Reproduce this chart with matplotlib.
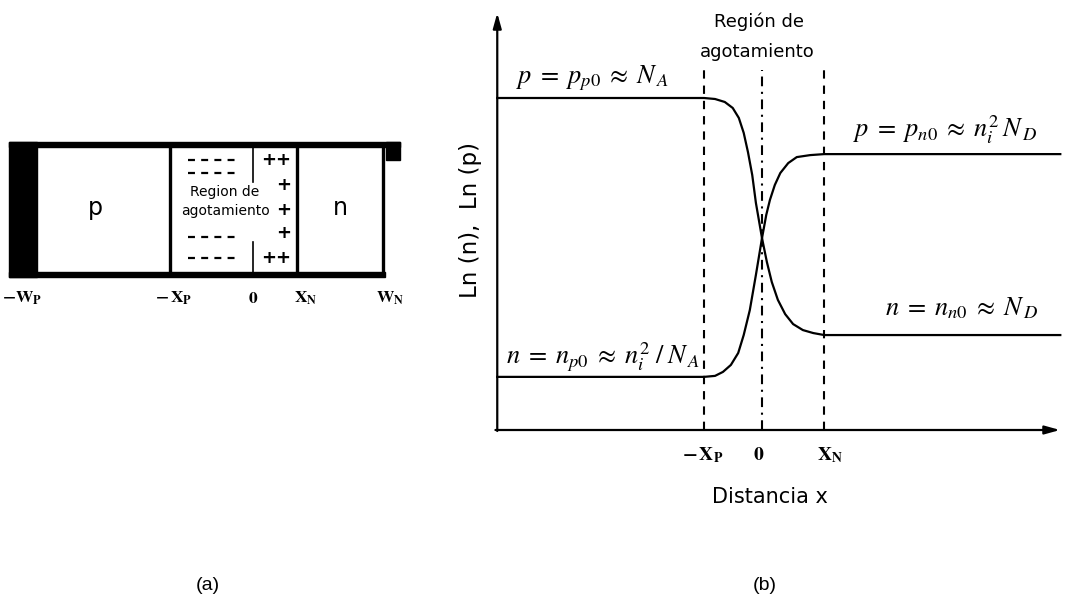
import matplotlib
matplotlib.use("Agg")
import matplotlib.pyplot as plt
from matplotlib.patches import Rectangle

plt.rcParams['mathtext.fontset'] = 'stix'
plt.rcParams['lines.scale_dashes'] = False

W, H = 1065, 612

# ---- panel (b): carrier profiles (x in units of the junction width, y ~ ln of concentration)
x_p, x_0, x_n = -0.95, 0.0, 1.02
x_left, x_right = -4.34, 4.89

# curve starting at the p_p0 level on the left
p_x = [x_left, -0.95, -0.77, -0.61, -0.48, -0.38, -0.30, -0.23, -0.16, -0.10, 0.0,
       0.08, 0.16, 0.26, 0.38, 0.51, 0.67, 0.84, 1.02, x_right]
p_y = [10.0, 10.0, 9.97, 9.88, 9.70, 9.40, 8.95, 8.37, 7.68, 6.84, 5.78,
       5.06, 4.46, 3.92, 3.49, 3.19, 3.01, 2.92, 2.86, 2.86]
# curve starting at the n_p0 level on the left
n_x = [x_left, -0.95, -0.77, -0.64, -0.51, -0.39, -0.30, -0.20, -0.10, 0.0,
       0.07, 0.13, 0.21, 0.30, 0.43, 0.57, 0.79, 1.02, x_right]
n_y = [1.60, 1.60, 1.63, 1.75, 1.96, 2.32, 2.86, 3.61, 4.67, 5.78,
       6.48, 6.93, 7.38, 7.74, 8.04, 8.22, 8.28, 8.31, 8.31]

tick_pos = [x_p - 0.02, x_0 - 0.06, x_n + 0.1]
tick_lab = [r'$\mathbf{-\,X_P}$', r'$\mathbf{0}$', r'$\mathbf{X_N}$']

# ---- panel (a): device cross-section (positions along the bar)
edge_l, p_start, edge_xp, edge_0, edge_xn, edge_r, tab_r = 9, 37, 170, 253, 298, 383, 400
bar_top, bar_bot = 142, 277
a_labels = [r'$\mathbf{-W_P}$', r'$\mathbf{-\,X_P}$', r'$\mathbf{0}$', r'$\mathbf{X_N}$', r'$\mathbf{W_N}$']
a_label_x = [22, 174, 253, 306, 390]


def px_axes(fig, x0, y0, x1, y1):
    return fig.add_axes([x0 / W, 1 - y1 / H, (x1 - x0) / W, (y1 - y0) / H])


fig = plt.figure(figsize=(W / 100, H / 100), dpi=100)

# ================= panel (a)
ax = px_axes(fig, 0, 130, 420, 310)
ax.set_xlim(0, 420)
ax.set_ylim(310, 130)
ax.axis('off')

k = 'black'
ax.add_patch(Rectangle((edge_l, bar_top), p_start - edge_l, bar_bot - bar_top, color=k))
ax.add_patch(Rectangle((edge_l, bar_top), tab_r - edge_l, 5, color=k))
ax.add_patch(Rectangle((edge_r + 3, bar_top), tab_r - edge_r - 3, 18, color=k))
ax.add_patch(Rectangle((edge_l, bar_bot - 5), edge_r + 2 - edge_l, 5, color=k))
for xv in [edge_xp, edge_xn - 1, edge_r]:
    ax.plot([xv, xv], [bar_top, bar_bot], color=k, lw=2.4, solid_capstyle='butt')
ax.plot([edge_0, edge_0], [bar_top + 5, 182], color=k, lw=1.2)
ax.plot([edge_0, edge_0], [242, bar_bot - 5], color=k, lw=1.2)

for yv in [160, 173, 237, 258]:
    ax.plot([188, 237], [yv, yv], color=k, lw=1.6, ls=(0, (5, 4.5)))
for yv, s, xv in [(160, '++', 276), (185, '+', 284), (210, '+', 284), (233, '+', 284), (258, '++', 276)]:
    ax.text(xv, yv, s, ha='center', va='center', fontsize=13, fontweight='bold')

ax.text(225, 192, 'Region de', ha='center', va='center', fontsize=10)
ax.text(225, 211, 'agotamiento', ha='center', va='center', fontsize=10)
ax.text(95, 208, 'p', ha='center', va='center', fontsize=17)
ax.text(340, 208, 'n', ha='center', va='center', fontsize=17)
for xv, s in zip(a_label_x, a_labels):
    ax.text(xv, 298, s, ha='center', va='center', fontsize=12.5)

# ================= panel (b)
ux, uy = 61.0, 33.2
bx = px_axes(fig, 470, 0, 1065, 480)
bx.set_xlim((470 - 762) / ux, (1065 - 762) / ux)
bx.set_ylim((430 - 480) / uy, 430 / uy)
bx.axis('off')

x_tip = (1060 - 762) / ux
y_tip = (430 - 13) / uy
bx.annotate('', xy=(x_tip, 0), xytext=(x_left - 0.03, 0),
            arrowprops=dict(arrowstyle='-|>,head_length=0.9,head_width=0.25', lw=1.6, color=k, shrinkA=0, shrinkB=0))
bx.annotate('', xy=(x_left, y_tip), xytext=(x_left, -0.03),
            arrowprops=dict(arrowstyle='-|>,head_length=0.9,head_width=0.25', lw=1.6, color=k, shrinkA=0, shrinkB=0))

y_top = (430 - 70) / uy
bx.plot([x_p, x_p], [0, y_top], color=k, lw=1.5, ls=(0, (6, 5)))
bx.plot([x_n, x_n], [0, y_top], color=k, lw=1.5, ls=(0, (6, 5)))
bx.plot([x_0, x_0], [0, y_top], color=k, lw=1.5, ls=(0, (7, 4, 1.5, 4)))

bx.plot(p_x, p_y, color=k, lw=1.6, solid_joinstyle='round')
bx.plot(n_x, n_y, color=k, lw=1.6, solid_joinstyle='round')

bx.text(-0.05, (430 - 22) / uy, 'Región de', ha='center', va='center', fontsize=13)
bx.text(-0.08, (430 - 52) / uy, 'agotamiento', ha='center', va='center', fontsize=13)

bx.text((593 - 762) / ux, (430 - 78) / uy, r'$p\;=\;p_{p0}\;\approx\;N_{\,A}$', ha='center', va='center', fontsize=19)
bx.text((945 - 762) / ux, (430 - 130) / uy, r'$p\;=\;p_{n0}\;\approx\;n_i^2\,N_{\,D}$', ha='center', va='center', fontsize=19)
bx.text((962 - 762) / ux, (430 - 308) / uy, r'$n\;=\;n_{n0}\;\approx\;N_{\,D}$', ha='center', va='center', fontsize=19)
bx.text((603 - 762) / ux, (430 - 357) / uy, r'$n\;=\;n_{p0}\;\approx\;n_i^2\;/\;N_{\,A}$', ha='center', va='center', fontsize=19)

for xv, s in zip(tick_pos, tick_lab):
    bx.text(xv, (430 - 455) / uy, s, ha='center', va='center', fontsize=14)

bx.text(0.13, (430 - 497) / uy, 'Distancia x', ha='center', va='center', fontsize=15, clip_on=False)
bx.text((470 - 762) / ux, (430 - 220) / uy, 'Ln (n),  Ln (p)', ha='center', va='center',
        fontsize=16.5, rotation=90, clip_on=False)

fig.text(208 / W, 1 - 586 / H, '(a)', ha='center', va='center', fontsize=14, family='Liberation Sans')
fig.text(765 / W, 1 - 586 / H, '(b)', ha='center', va='center', fontsize=14, family='Liberation Sans')

fig.savefig('out.png', dpi=100)
